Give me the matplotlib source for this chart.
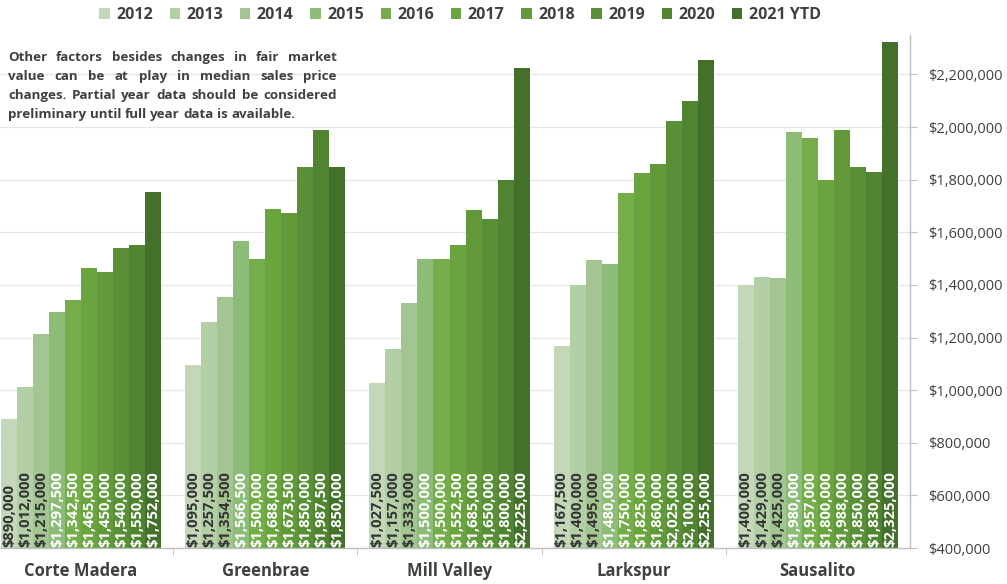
import numpy as np
import matplotlib
matplotlib.use("Agg")
import matplotlib.pyplot as plt
from matplotlib.patches import Patch
from matplotlib.ticker import FuncFormatter, FixedLocator

# -------------------- datos --------------------
years = ["2012", "2013", "2014", "2015", "2016", "2017", "2018", "2019", "2020", "2021 YTD"]
towns = ["Corte Madera", "Greenbrae", "Mill Valley", "Larkspur", "Sausalito"]

corte_madera = [890000, 1012000, 1215000, 1297500, 1342500, 1465000, 1450000, 1540000, 1550000, 1752000]
greenbrae = [1095000, 1257500, 1354500, 1566500, 1500000, 1688000, 1673500, 1850000, 1987500, 1850000]
mill_valley = [1027500, 1157000, 1333000, 1500000, 1500000, 1552500, 1685000, 1650000, 1800000, 2225000]
larkspur = [1167500, 1400000, 1495000, 1480000, 1750000, 1825000, 1860000, 2025000, 2100000, 2255000]
sausalito = [1400000, 1429000, 1425000, 1980000, 1957000, 1800000, 1988000, 1850000, 1830000, 2325000]

colors = ["#c4d8b9", "#b3cfa6", "#a3c591", "#8dbb78", "#74ad4a",
          "#6aa43f", "#62993b", "#598f36", "#508431", "#43702a"]

note_lines = [
    "Other factors besides changes in fair market",
    "value can be at play in median sales price",
    "changes. Partial year data should be considered",
    "preliminary until full year data is available.",
]

FONT = "Open Sans"
GREY = "#404040"
W, H = 1007, 584

# -------------------- figura --------------------
fig = plt.figure(figsize=(W / 100, H / 100), dpi=100)
ax = fig.add_axes([-11 / W, 36 / H, 921 / W, 513 / H])

data = np.array([corte_madera, greenbrae, mill_valley, larkspur, sausalito])
x = np.arange(len(towns))
n = len(years)
bw = 0.0869
for i, yr in enumerate(years):
    pos = x + (i - (n - 1) / 2) * bw
    ax.bar(pos, data[:, i], width=bw, color=colors[i], zorder=2, label=yr)
    for xp, v in zip(pos, data[:, i]):
        ax.text(xp, 404000, f"${v:,.0f}", rotation=90, ha="center", va="bottom",
                fontsize=10.6, fontweight="bold", family=FONT,
                color="#333333" if i < 3 else "white", zorder=3)

ax.set_xlim(-0.5, len(towns) - 0.5)
ax.set_ylim(400000, 2350000)

# eje y a la derecha
ax.yaxis.tick_right()
ax.set_yticks(np.arange(400000, 2200001, 200000))
ax.yaxis.set_major_formatter(FuncFormatter(lambda v, p: f"${v:,.0f}"))
ax.tick_params(axis="y", length=5, color="#bfbfbf", labelsize=10.5,
               labelcolor=GREY, pad=8)
for lab in ax.get_yticklabels():
    lab.set_family(FONT)

# eje x: nombres y marcas entre grupos
ax.set_xticks(x)
ax.set_xticklabels(towns)
ax.tick_params(axis="x", length=0, labelsize=12, labelcolor=GREY, pad=10)
for lab in ax.get_xticklabels():
    lab.set_family(FONT)
    lab.set_fontweight("bold")
ax.xaxis.set_minor_locator(FixedLocator(np.arange(0.5, len(towns) - 0.5, 1)))
ax.tick_params(axis="x", which="minor", length=5, color="#bfbfbf")

ax.grid(axis="y", color="#e6e6e6", linewidth=0.9, zorder=0)
ax.set_axisbelow(True)
for s in ["top", "left"]:
    ax.spines[s].set_visible(False)
for s in ["right", "bottom"]:
    ax.spines[s].set_color("#bfbfbf")
    ax.spines[s].set_linewidth(1.0)

# leyenda
handles = [Patch(facecolor=c, label=y) for c, y in zip(colors, years)]
fig.legend(handles=handles, loc="center", bbox_to_anchor=(460 / W, 1 - 15 / H),
           ncol=n, frameon=False, handlelength=0.65, handleheight=0.65,
           handletextpad=0.4, columnspacing=1.05,
           prop={"family": FONT, "weight": "bold", "size": 11.5},
           labelcolor=GREY)

# nota justificada
renderer = fig.canvas.get_renderer()
x0, x1 = 8, 337
for k, line in enumerate(note_lines):
    yy = 1 - (61 + k * 19) / H
    words = line.split(" ")
    txts = [fig.text(0, yy, w_, fontsize=9.6, fontweight="bold", family=FONT,
                     color=GREY, va="baseline", ha="left") for w_ in words]
    widths = [t.get_window_extent(renderer).width for t in txts]
    if k < len(note_lines) - 1 and len(words) > 1:
        gap = (x1 - x0 - sum(widths)) / (len(words) - 1)
    else:
        gap = renderer.points_to_pixels(9.6) * 0.26
    cx = x0
    for t, wd in zip(txts, widths):
        t.set_x(cx / W)
        cx += wd + gap

fig.savefig("out.png", dpi=100)
